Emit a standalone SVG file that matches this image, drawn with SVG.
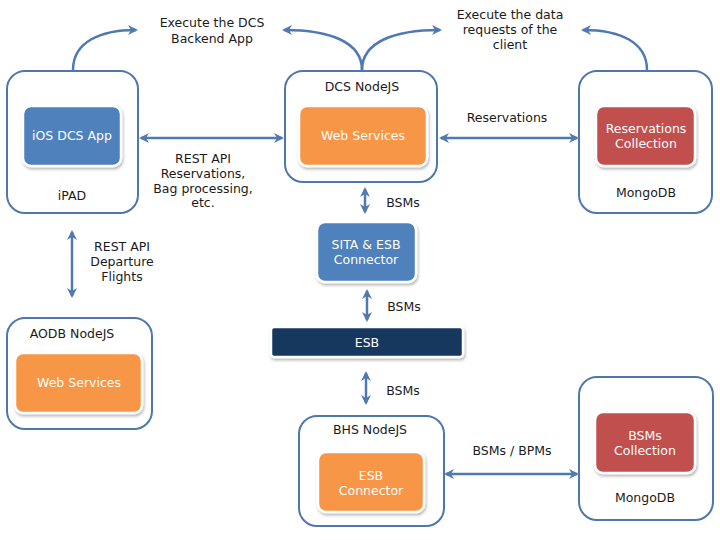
<svg xmlns="http://www.w3.org/2000/svg" width="720" height="540" viewBox="0 0 720 540">
<style>
.box{fill:#fff;stroke:#4f77ad;stroke-width:2}
.inner{stroke:#fff;stroke-width:2.5;filter:url(#sh)}
.blue{fill:#4f81bd}.orange{fill:#f79646}.red{fill:#c0504d}.navy{fill:#17375e}
text{font-family:"DejaVu Sans","Verdana",sans-serif;font-size:12.5px;text-anchor:middle}
.lbl{fill:#1a1a1a}
.wt{fill:#fff}
.conn path{fill:none;stroke:#5079b3;stroke-width:2.5}
</style>
<defs>
<filter id="sh" x="-10%" y="-10%" width="125%" height="130%">
<feGaussianBlur in="SourceAlpha" stdDeviation="1.5"/>
<feOffset dx="1" dy="2" result="b"/>
<feComponentTransfer><feFuncA type="linear" slope="0.3"/></feComponentTransfer>
<feMerge><feMergeNode/><feMergeNode in="SourceGraphic"/></feMerge>
</filter>
<marker id="ah" viewBox="0 0 10 10" refX="8" refY="5" markerWidth="4" markerHeight="4" orient="auto-start-reverse" markerUnits="strokeWidth">
<path d="M0,0 L10,5 L0,10 L3,5 Z" fill="#5079b3"/>
</marker>
</defs>
<rect width="720" height="540" fill="#fff"/>

<g id="ipad">
<rect class="box" x="7" y="71" width="131" height="142" rx="18"/>
<rect class="inner blue" x="23" y="106" width="98" height="60" rx="8"/>
<text class="wt" x="72" y="140">iOS DCS App</text>
<text class="lbl" x="72" y="200">iPAD</text>
</g>

<g id="dcs">
<rect class="box" x="285" y="71" width="152" height="111" rx="18"/>
<text class="lbl" x="362" y="91">DCS NodeJS</text>
<rect class="inner orange" x="299" y="106" width="128" height="60" rx="8"/>
<text class="wt" x="363" y="140">Web Services</text>
</g>

<g id="mongo1">
<rect class="box" x="579" y="71" width="133" height="142" rx="18"/>
<rect class="inner red" x="596" y="106" width="99" height="60" rx="8"/>
<text class="wt" x="646" y="133">Reservations</text>
<text class="wt" x="646" y="148">Collection</text>
<text class="lbl" x="646" y="197">MongoDB</text>
</g>

<g id="aodb">
<rect class="box" x="7" y="318" width="145" height="111" rx="18"/>
<text class="lbl" x="72" y="338">AODB NodeJS</text>
<rect class="inner orange" x="15" y="353" width="127" height="60" rx="8"/>
<text class="wt" x="79" y="387">Web Services</text>
</g>

<g id="sita">
<rect class="inner blue" x="317" y="222" width="99" height="60" rx="8"/>
<text class="wt" x="366" y="249">SITA &amp; ESB</text>
<text class="wt" x="366" y="264">Connector</text>
</g>

<g id="esb">
<rect class="inner navy" x="271" y="327" width="192" height="30" rx="3"/>
<text class="wt" x="367" y="347">ESB</text>
</g>

<g id="bhs">
<rect class="box" x="299" y="416" width="145" height="110" rx="18"/>
<text class="lbl" x="370" y="434">BHS NodeJS</text>
<rect class="inner orange" x="318" y="452" width="106" height="60" rx="8"/>
<text class="wt" x="371" y="480">ESB</text>
<text class="wt" x="371" y="495">Connector</text>
</g>

<g id="mongo2">
<rect class="box" x="579" y="377" width="134" height="143" rx="18"/>
<rect class="inner red" x="595" y="412" width="100" height="61" rx="8"/>
<text class="wt" x="645" y="440">BSMs</text>
<text class="wt" x="645" y="455">Collection</text>
<text class="lbl" x="645" y="502">MongoDB</text>
</g>

<g id="connectors" class="conn">
<path d="M73,70 C73,42 100,30 136,30" marker-end="url(#ah)"/>
<path d="M362,70 C362,42 330,30 284,30" marker-end="url(#ah)"/>
<path d="M362,70 C362,42 394,30 440,30" marker-end="url(#ah)"/>
<path d="M647,70 C647,42 620,30 583,30" marker-end="url(#ah)"/>
<path d="M141,138 L282,138" marker-start="url(#ah)" marker-end="url(#ah)"/>
<path d="M441,138 L577,138" marker-start="url(#ah)" marker-end="url(#ah)"/>
<path d="M72,232 L72,296" marker-start="url(#ah)" marker-end="url(#ah)"/>
<path d="M365,189 L365,212" marker-start="url(#ah)" marker-end="url(#ah)"/>
<path d="M367,291 L367,320" marker-start="url(#ah)" marker-end="url(#ah)"/>
<path d="M366,373 L366,403" marker-start="url(#ah)" marker-end="url(#ah)"/>
<path d="M446,474 L577,474" marker-start="url(#ah)" marker-end="url(#ah)"/>
</g>

<g id="labels" class="lbl">
<text class="lbl" x="212" y="27">Execute the DCS</text>
<text class="lbl" x="212" y="43">Backend App</text>
<text class="lbl" x="510" y="19">Execute the data</text>
<text class="lbl" x="510" y="34">requests of the</text>
<text class="lbl" x="510" y="49">client</text>
<text class="lbl" x="203" y="163">REST API</text>
<text class="lbl" x="203" y="178">Reservations,</text>
<text class="lbl" x="203" y="193">Bag processing,</text>
<text class="lbl" x="203" y="207">etc.</text>
<text class="lbl" x="507" y="122">Reservations</text>
<text class="lbl" x="122" y="251">REST API</text>
<text class="lbl" x="122" y="266">Departure</text>
<text class="lbl" x="122" y="281">Flights</text>
<text class="lbl" x="403" y="207">BSMs</text>
<text class="lbl" x="404" y="311">BSMs</text>
<text class="lbl" x="403" y="395">BSMs</text>
<text class="lbl" x="512" y="455">BSMs / BPMs</text>
</g>
</svg>
